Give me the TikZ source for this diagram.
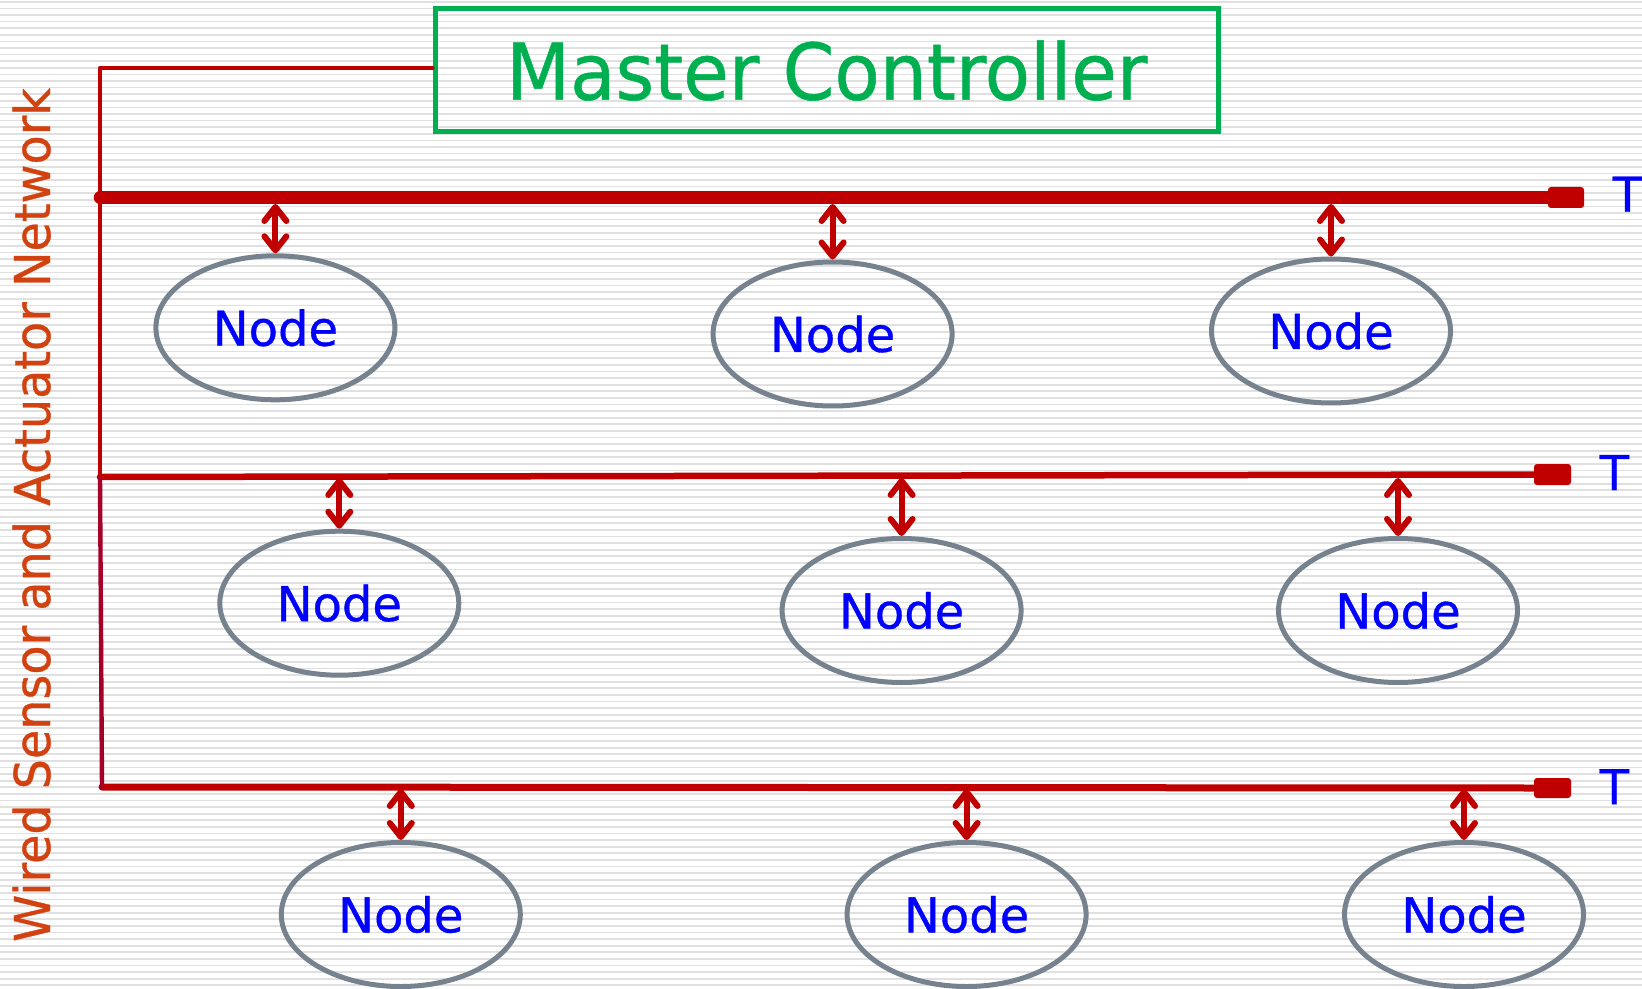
\documentclass[tikz,border=0pt]{standalone}
\usepackage{fontspec}
\usepackage{graphicx}
\setmainfont{DejaVu Sans}
\newfontfamily\boldishfont[FakeBold=0.7]{DejaVu Sans}
\usetikzlibrary{arrows.meta,shapes.geometric}
\definecolor{busred}{HTML}{C00000}
\definecolor{crimsonwire}{RGB}{165,0,40}
\definecolor{mcgreen}{HTML}{00B050}
\definecolor{ellgray}{HTML}{76828E}
\definecolor{nodeblue}{HTML}{0000FF}
\definecolor{sideorange}{RGB}{209,66,16}
\definecolor{stripegray}{HTML}{E0E0E0}
\tikzset{
  stripe/.style={fill=stripegray},
  mcbox/.style={draw=mcgreen, line width=2.5pt, minimum width=391.75pt, minimum height=61.5pt,
    inner sep=0pt, text=mcgreen, font=\boldishfont\fontsize{39}{39}\selectfont},
  wire/.style={draw=busred, line width=2.2pt, line cap=round, line join=round},
  bus/.style={draw=busred, line cap=round},
  term/.style={fill=busred, rounded corners=1.5pt, inner sep=0pt},
  nd/.style={ellipse, draw=ellgray, line width=2.5pt, minimum width=119.5pt, minimum height=72pt,
    inner sep=0pt, text=nodeblue, font=\boldishfont\fontsize{24}{24}\selectfont},
  arr/.style={draw=busred, line width=3pt,
    {Straight Barb[length=7pt,width=11pt,round]}-{Straight Barb[length=7pt,width=11pt,round]}},
  arrshadow/.style={draw=black, opacity=0.15, line width=5pt},
  tlab/.style={text=nodeblue, inner sep=0pt, font=\boldishfont\fontsize{24}{24}\selectfont, anchor=base},
  side/.style={text=sideorange, inner sep=0pt, font=\boldishfont\fontsize{24.7}{24.7}\selectfont}
}
\begin{document}
\begin{tikzpicture}[x=0.5pt,y=-0.5pt]
\useasboundingbox (0,0) rectangle (1642,989);
\fill[white] (0,0) rectangle (1642,989);
\foreach \i in {0,...,149}{\fill[stripe] (0,{\i*6.6+1}) rectangle (1642,{\i*6.6+2.7});}

% master controller
\node[mcbox] (mc) at (826.75,70.5) {\scalebox{0.95}[1]{Master Controller}};

% side label
\node[side, rotate=90, anchor=base] (lbl) at (50,515) {\scalebox{0.965}[1]{Wired Sensor and Actuator Network}};

% key coordinates
\coordinate (tl) at (100,68);
\coordinate (b1l) at (100,197.5);
\coordinate (b2l) at (100,477);
\coordinate (b3l) at (102,787);
\coordinate (b1b) at (0,204);
\coordinate (b2b) at (0,478);
\coordinate (b3b) at (0,789);

% terminators
\node[term, minimum width=18pt, minimum height=10.5pt] (t1) at (1566,197.5) {};
\node[term, minimum width=18.5pt, minimum height=10.5pt] (t2) at (1552.5,474.5) {};
\node[term, minimum width=18.5pt, minimum height=10pt] (t3) at (1552.5,788) {};

% buses
\draw[bus, line width=6.3pt] (b1l) -- (t1.west);
\draw[bus, line width=3.25pt] (b2l) -- (t2.west);
\draw[bus, line width=3.5pt] (b3l) -- (t3.west);

% trunk
\draw[wire] (mc.west |- tl) -- (tl) -- (b2l);
\draw[wire, draw=crimsonwire] (b2l) -- (b3l);

% T labels
\node[tlab] (T1) at (1627.5,211.7) {T};
\node[tlab] (T2) at (1614.3,490) {T};
\node[tlab] (T3) at (1614.3,804.2) {T};

% nodes
\node[nd] (e1) at (275.4,327.8) {Node};
\node[nd] (e2) at (832.6,334) {Node};
\node[nd] (e3) at (1331,331) {Node};
\node[nd] (e4) at (339.3,603.2) {Node};
\node[nd] (e5) at (901.6,610.5) {Node};
\node[nd] (e6) at (1398,610.5) {Node};
\node[nd] (e7) at (400.8,914.5) {Node};
\node[nd] (e8) at (966.6,914.5) {Node};
\node[nd] (e9) at (1464,914.5) {Node};

% arrows
\foreach \e in {e1,e2,e3}{\draw[arr] (\e.north |- b1b) -- (\e.north);}
\foreach \e in {e4,e5,e6}{\draw[arr] (\e.north |- b2b) -- (\e.north);}
\foreach \e in {e7,e8,e9}{\draw[arr] (\e.north |- b3b) -- (\e.north);}
\end{tikzpicture}
\end{document}
